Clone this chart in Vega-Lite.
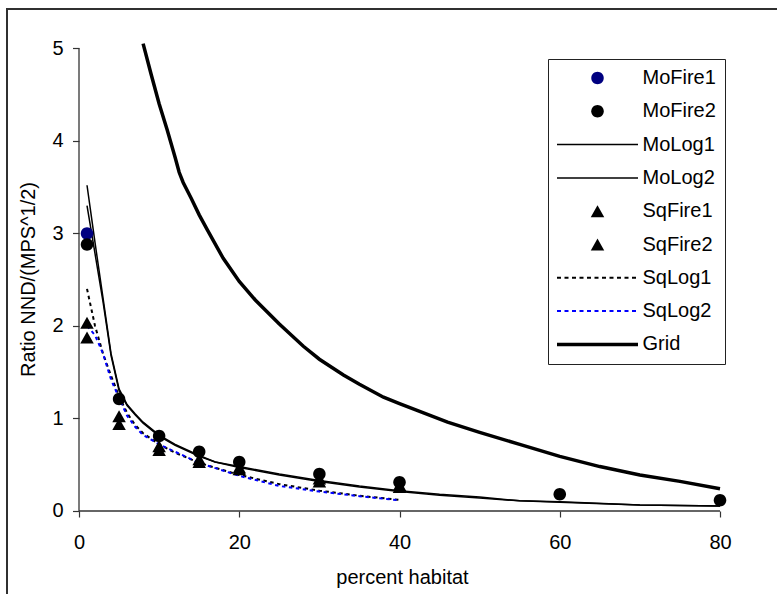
{
  "$schema": "https://vega.github.io/schema/vega-lite/v6.json",
  "width": 780,
  "height": 595,
  "autosize": {"type": "none"},
  "padding": {"left": 7, "top": 9, "right": -10, "bottom": -10},
  "background": "white",
  "config": {
    "font": "Liberation Sans",
    "view": {"stroke": "#303030", "strokeWidth": 2},
    "legend": {
      "orient": "none", "legendX": 541, "legendY": 50,
      "padding": 9, "strokeColor": "#222", "fillColor": "white",
      "rowPadding": 13.3, "symbolOffset": 30.5, "labelOffset": 35, "symbolSize": 400,
      "symbolStrokeWidth": 0, "symbolOpacity": 1,
      "labelFont": "Liberation Sans", "labelFontSize": 20, "labelColor": "#000", "labelLimit": 300
    }
  },
  "data": {"values": [
    {"series":"Grid","x":8,"y":5.05},{"series":"Grid","x":9,"y":4.72},{"series":"Grid","x":10,"y":4.4},{"series":"Grid","x":11,"y":4.12},{"series":"Grid","x":12,"y":3.82},{"series":"Grid","x":12.5,"y":3.66},{"series":"Grid","x":13,"y":3.55},{"series":"Grid","x":14,"y":3.38},{"series":"Grid","x":15,"y":3.2},{"series":"Grid","x":16,"y":3.04},{"series":"Grid","x":18,"y":2.73},{"series":"Grid","x":20,"y":2.48},{"series":"Grid","x":22,"y":2.28},{"series":"Grid","x":25,"y":2.02},{"series":"Grid","x":28,"y":1.78},{"series":"Grid","x":30,"y":1.64},{"series":"Grid","x":33,"y":1.47},{"series":"Grid","x":35,"y":1.37},{"series":"Grid","x":38,"y":1.23},{"series":"Grid","x":40,"y":1.16},{"series":"Grid","x":43,"y":1.06},{"series":"Grid","x":46,"y":0.96},{"series":"Grid","x":50,"y":0.85},{"series":"Grid","x":55,"y":0.72},{"series":"Grid","x":60,"y":0.59},{"series":"Grid","x":65,"y":0.48},{"series":"Grid","x":70,"y":0.39},{"series":"Grid","x":75,"y":0.32},{"series":"Grid","x":80,"y":0.24},
    {"series":"MoLog1","x":1,"y":3.52},{"series":"MoLog1","x":2,"y":2.9},{"series":"MoLog1","x":3,"y":2.3},{"series":"MoLog1","x":4,"y":1.7},{"series":"MoLog1","x":5,"y":1.32},{"series":"MoLog1","x":6,"y":1.15},{"series":"MoLog1","x":7,"y":1.05},{"series":"MoLog1","x":8,"y":0.96},{"series":"MoLog1","x":10,"y":0.82},{"series":"MoLog1","x":12,"y":0.72},{"series":"MoLog1","x":15,"y":0.6},{"series":"MoLog1","x":17,"y":0.53},{"series":"MoLog1","x":20,"y":0.48},{"series":"MoLog1","x":25,"y":0.4},{"series":"MoLog1","x":30,"y":0.33},{"series":"MoLog1","x":35,"y":0.27},{"series":"MoLog1","x":40,"y":0.22},{"series":"MoLog1","x":45,"y":0.18},{"series":"MoLog1","x":50,"y":0.15},{"series":"MoLog1","x":55,"y":0.11},{"series":"MoLog1","x":60,"y":0.1},{"series":"MoLog1","x":70,"y":0.066},{"series":"MoLog1","x":80,"y":0.055},
    {"series":"MoLog2","x":1,"y":3.3},{"series":"MoLog2","x":2,"y":2.78},{"series":"MoLog2","x":3,"y":2.26},{"series":"MoLog2","x":4,"y":1.68},{"series":"MoLog2","x":5,"y":1.3},{"series":"MoLog2","x":6,"y":1.14},{"series":"MoLog2","x":7,"y":1.04},{"series":"MoLog2","x":8,"y":0.95},{"series":"MoLog2","x":10,"y":0.81},{"series":"MoLog2","x":12,"y":0.71},{"series":"MoLog2","x":15,"y":0.59},{"series":"MoLog2","x":17,"y":0.53},{"series":"MoLog2","x":20,"y":0.47},{"series":"MoLog2","x":25,"y":0.39},{"series":"MoLog2","x":30,"y":0.32},{"series":"MoLog2","x":35,"y":0.26},{"series":"MoLog2","x":40,"y":0.21},{"series":"MoLog2","x":45,"y":0.17},{"series":"MoLog2","x":50,"y":0.14},{"series":"MoLog2","x":55,"y":0.11},{"series":"MoLog2","x":60,"y":0.095},{"series":"MoLog2","x":70,"y":0.065},{"series":"MoLog2","x":80,"y":0.055},
    {"series":"SqLog1","x":1,"y":2.4},{"series":"SqLog1","x":2,"y":2.0},{"series":"SqLog1","x":3,"y":1.7},{"series":"SqLog1","x":4,"y":1.46},{"series":"SqLog1","x":5,"y":1.24},{"series":"SqLog1","x":6,"y":1.06},{"series":"SqLog1","x":7,"y":0.93},{"series":"SqLog1","x":8,"y":0.84},{"series":"SqLog1","x":10,"y":0.72},{"series":"SqLog1","x":12,"y":0.63},{"series":"SqLog1","x":15,"y":0.52},{"series":"SqLog1","x":20,"y":0.39},{"series":"SqLog1","x":25,"y":0.29},{"series":"SqLog1","x":30,"y":0.22},{"series":"SqLog1","x":35,"y":0.165},{"series":"SqLog1","x":40,"y":0.12},
    {"series":"SqLog2","x":1,"y":2.0},{"series":"SqLog2","x":2,"y":1.9},{"series":"SqLog2","x":3,"y":1.7},{"series":"SqLog2","x":4,"y":1.42},{"series":"SqLog2","x":5,"y":1.22},{"series":"SqLog2","x":6,"y":1.03},{"series":"SqLog2","x":7,"y":0.91},{"series":"SqLog2","x":8,"y":0.82},{"series":"SqLog2","x":10,"y":0.72},{"series":"SqLog2","x":12,"y":0.64},{"series":"SqLog2","x":15,"y":0.52},{"series":"SqLog2","x":20,"y":0.38},{"series":"SqLog2","x":25,"y":0.27},{"series":"SqLog2","x":30,"y":0.21},{"series":"SqLog2","x":35,"y":0.16},{"series":"SqLog2","x":40,"y":0.115},
    {"series":"MoFire1","x":1,"y":3.0},
    {"series":"MoFire2","x":1,"y":2.88},{"series":"MoFire2","x":5,"y":1.21},{"series":"MoFire2","x":10,"y":0.81},{"series":"MoFire2","x":15,"y":0.64},{"series":"MoFire2","x":20,"y":0.53},{"series":"MoFire2","x":30,"y":0.4},{"series":"MoFire2","x":40,"y":0.31},{"series":"MoFire2","x":60,"y":0.18},{"series":"MoFire2","x":80,"y":0.115},
    {"series":"SqFire1","x":1,"y":2.035},{"series":"SqFire1","x":5,"y":1.025},{"series":"SqFire1","x":10,"y":0.7},{"series":"SqFire1","x":15,"y":0.56},{"series":"SqFire1","x":20,"y":0.47},{"series":"SqFire1","x":30,"y":0.35},{"series":"SqFire1","x":40,"y":0.28},
    {"series":"SqFire2","x":1,"y":1.875},{"series":"SqFire2","x":5,"y":0.94},{"series":"SqFire2","x":10,"y":0.66},{"series":"SqFire2","x":15,"y":0.53},{"series":"SqFire2","x":20,"y":0.45},{"series":"SqFire2","x":30,"y":0.32},{"series":"SqFire2","x":40,"y":0.26}
  ]},
  "encoding": {
    "x": {
      "field": "x", "type": "quantitative",
      "scale": {"domain": [-8.986, 88.36], "nice": false, "zero": false},
      "axis": {
        "values": [0, 20, 40, 60, 80], "offset": -93, "grid": false, "domain": false,
        "title": "percent habitat", "tickSize": 6, "tickColor": "#333", "tickWidth": 1.2,
        "labelFont": "Liberation Sans", "labelFontSize": 20, "labelColor": "#000", "labelPadding": 15.5,
        "labelFlush": false, "labelOverlap": false,
        "titleFont": "Liberation Sans", "titleFontSize": 20, "titleFontWeight": "normal", "titleColor": "#000",
        "titlePadding": 15, "titleX": 395
      }
    },
    "y": {
      "field": "y", "type": "quantitative",
      "scale": {"domain": [-1.005, 5.4247], "nice": false, "zero": false},
      "axis": {
        "values": [0, 1, 2, 3, 4, 5], "offset": -72, "grid": false, "domain": false,
        "title": "Ratio NND/(MPS^1/2)", "tickSize": 6.5, "tickColor": "#333", "tickWidth": 1.2,
        "labelFont": "Liberation Sans", "labelFontSize": 20, "labelColor": "#000", "labelPadding": 9.5,
        "labelFlush": false, "labelOverlap": false,
        "titleFont": "Liberation Sans", "titleFontSize": 20, "titleFontWeight": "normal", "titleColor": "#000",
        "titlePadding": 13, "titleY": 270
      }
    }
  },
  "layer": [
    {
      "data": {"values": [
        {"axis": "x", "x": 0, "y": 0}, {"axis": "x", "x": 80, "y": 0},
        {"axis": "y", "x": 0, "y": 0}, {"axis": "y", "x": 0, "y": 5}
      ]},
      "mark": {"type": "line", "strokeWidth": 1.3, "color": "#333333"},
      "encoding": {"detail": {"field": "axis", "type": "nominal"}}
    },
    {
      "transform": [{"filter": {"field": "series", "equal": "Grid"}}],
      "mark": {"type": "line", "strokeWidth": 3.5, "color": "#000000"}
    },
    {
      "transform": [{"filter": {"field": "series", "oneOf": ["MoLog1", "MoLog2"]}}],
      "mark": {"type": "line", "strokeWidth": 1.5, "color": "#000000"},
      "encoding": {"detail": {"field": "series", "type": "nominal"}}
    },
    {
      "transform": [{"filter": {"field": "series", "equal": "SqLog1"}}],
      "mark": {"type": "line", "strokeWidth": 2, "strokeDash": [3.5, 3.5], "color": "#000000"}
    },
    {
      "transform": [{"filter": {"field": "series", "equal": "SqLog2"}}],
      "mark": {"type": "line", "strokeWidth": 2, "strokeDash": [3.5, 3.5], "color": "#0000ff"}
    },
    {
      "transform": [{"filter": {"field": "series", "oneOf": ["MoFire1", "MoFire2", "SqFire1", "SqFire2"]}}],
      "mark": {"type": "point", "filled": true, "size": 400, "strokeWidth": 0, "opacity": 1},
      "encoding": {
        "color": {
          "field": "series", "type": "nominal",
          "scale": {
            "domain": ["MoFire1", "MoFire2", "MoLog1", "MoLog2", "SqFire1", "SqFire2", "SqLog1", "SqLog2", "Grid"],
            "range": ["#000080", "#000000", "#000000", "#000000", "#000000", "#000000", "#000000", "#0000ff", "#000000"]
          },
          "legend": {"title": null}
        },
        "shape": {
          "field": "series", "type": "nominal",
          "scale": {
            "domain": ["MoFire1", "MoFire2", "MoLog1", "MoLog2", "SqFire1", "SqFire2", "SqLog1", "SqLog2", "Grid"],
            "range": [
              "M-0.625,0a0.625,0.625 0 1,0 1.25,0a0.625,0.625 0 1,0 -1.25,0z",
              "M-0.625,0a0.625,0.625 0 1,0 1.25,0a0.625,0.625 0 1,0 -1.25,0z",
              "M-4.05,-0.075H4.05V0.075H-4.05z",
              "M-4.05,-0.075H4.05V0.075H-4.05z",
              "M0,-0.6L0.675,0.6L-0.675,0.6z",
              "M0,-0.6L0.675,0.6L-0.675,0.6z",
              "M-4.05,-0.1h0.4v0.2h-0.4zM-3.3,-0.1h0.4v0.2h-0.4zM-2.55,-0.1h0.4v0.2h-0.4zM-1.8,-0.1h0.4v0.2h-0.4zM-1.05,-0.1h0.4v0.2h-0.4zM-0.3,-0.1h0.4v0.2h-0.4zM0.45,-0.1h0.4v0.2h-0.4zM1.2,-0.1h0.4v0.2h-0.4zM1.95,-0.1h0.4v0.2h-0.4zM2.7,-0.1h0.4v0.2h-0.4zM3.45,-0.1h0.4v0.2h-0.4z",
              "M-4.05,-0.1h0.4v0.2h-0.4zM-3.3,-0.1h0.4v0.2h-0.4zM-2.55,-0.1h0.4v0.2h-0.4zM-1.8,-0.1h0.4v0.2h-0.4zM-1.05,-0.1h0.4v0.2h-0.4zM-0.3,-0.1h0.4v0.2h-0.4zM0.45,-0.1h0.4v0.2h-0.4zM1.2,-0.1h0.4v0.2h-0.4zM1.95,-0.1h0.4v0.2h-0.4zM2.7,-0.1h0.4v0.2h-0.4zM3.45,-0.1h0.4v0.2h-0.4z",
              "M-4.05,-0.175H4.05V0.175H-4.05z"
            ]
          },
          "legend": {"title": null}
        }
      }
    }
  ]
}
